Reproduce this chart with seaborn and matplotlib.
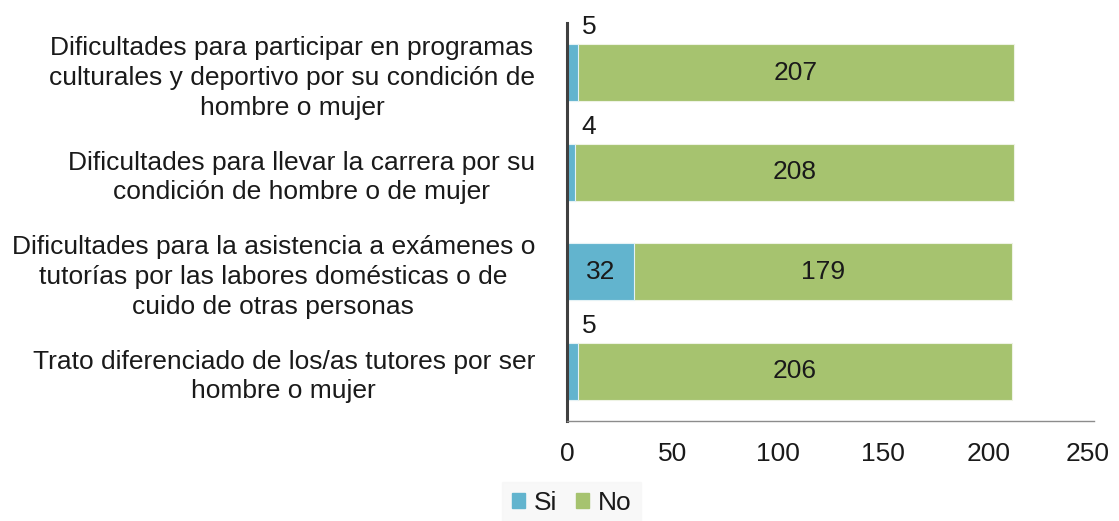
import matplotlib
matplotlib.use("Agg")
import matplotlib.pyplot as plt
import matplotlib.patches as mpatches
import matplotlib.transforms as mtransforms
import seaborn as sns
import pandas as pd

categories = [
    "Dificultades para participar en programas\nculturales y deportivo por su condición de\nhombre o mujer",
    "Dificultades para llevar la carrera por su\ncondición de hombre o de mujer",
    "Dificultades para la asistencia a exámenes o\ntutorías por las labores domésticas o de\ncuido de otras personas",
    "Trato diferenciado de los/as tutores por ser\nhombre o mujer",
]
si_values = [5, 4, 32, 5]
no_values = [207, 208, 179, 206]
x_ticks = [0, 50, 100, 150, 200, 250]
series_names = ["Si", "No"]

color_si = "#62B4CE"
color_no = "#A6C36F"
text_color = "#1a1a1a"
fs = 19

df = pd.DataFrame({"categoria": categories, "Si": si_values, "No": no_values})
df["total"] = df["Si"] + df["No"]

sns.set_theme(style="white")
plt.rcParams["font.family"] = ["Liberation Sans", "DejaVu Sans"]

fig = plt.figure(figsize=(11.19, 5.21), dpi=100)
ax = fig.add_axes([0.5067, 0.1919, 0.4710, 0.7640])

# Stacked bars: full total in green, "Si" portion drawn over it from zero
sns.barplot(data=df, y="categoria", x="total", color=color_no, orient="h",
            width=0.57, ax=ax, edgecolor="#EEF3E4", linewidth=0.8,
            saturation=1)
sns.barplot(data=df, y="categoria", x="Si", color=color_si, orient="h",
            width=0.57, ax=ax, edgecolor="#E4F2F6", linewidth=0.8,
            saturation=1)

ax.set_xlim(0, 250)
ax.set_ylim(3.5, -0.5)
ax.set_xticks(x_ticks)
ax.set_xticklabels([str(t) for t in x_ticks])
ax.set_xlabel("")
ax.set_ylabel("")

ax.tick_params(axis="x", length=0, pad=15, labelsize=fs, colors=text_color)
ax.tick_params(axis="y", length=0, pad=23, labelsize=fs, colors=text_color)
for lbl in ax.get_yticklabels():
    lbl.set_multialignment("center")
    lbl.set_linespacing(1.3)

# keep the last tick label inside the canvas
last = ax.get_xticklabels()[-1]
last.set_transform(last.get_transform() +
                   mtransforms.ScaledTranslation(-6 / 100, 0, fig.dpi_scale_trans))

for side in ["top", "right"]:
    ax.spines[side].set_visible(False)
ax.spines["left"].set_color("#404040")
ax.spines["left"].set_linewidth(2.2)
ax.spines["bottom"].set_color("#8C8C8C")
ax.spines["bottom"].set_linewidth(1.0)

# Value labels
for i, (s, n) in enumerate(zip(si_values, no_values)):
    ax.text(s + n / 2, i, str(n), ha="center", va="center",
            fontsize=fs, color=text_color)
    if s >= 15:
        ax.text(s / 2, i, str(s), ha="center", va="center",
                fontsize=fs, color=text_color)
    else:
        ax.annotate(str(s), xy=(s / 2, i - 0.285), xytext=(17, 5),
                    textcoords="offset pixels", ha="center", va="bottom",
                    fontsize=fs, color=text_color)

handles = [mpatches.Patch(color=color_si, label=series_names[0]),
           mpatches.Patch(color=color_no, label=series_names[1])]
leg = fig.legend(handles=handles, loc="center", bbox_to_anchor=(0.511, 0.035),
                 ncol=2, frameon=True, fontsize=fs, handlelength=0.5,
                 handleheight=0.5, handletextpad=0.35, columnspacing=0.7,
                 borderpad=0.35)
for t in leg.get_texts():
    t.set_color(text_color)
leg.get_frame().set_facecolor("#F7F7F7")
leg.get_frame().set_edgecolor("#F7F7F7")
leg.get_frame().set_boxstyle("square", pad=0)

fig.savefig("out.png", dpi=100, facecolor="white")
